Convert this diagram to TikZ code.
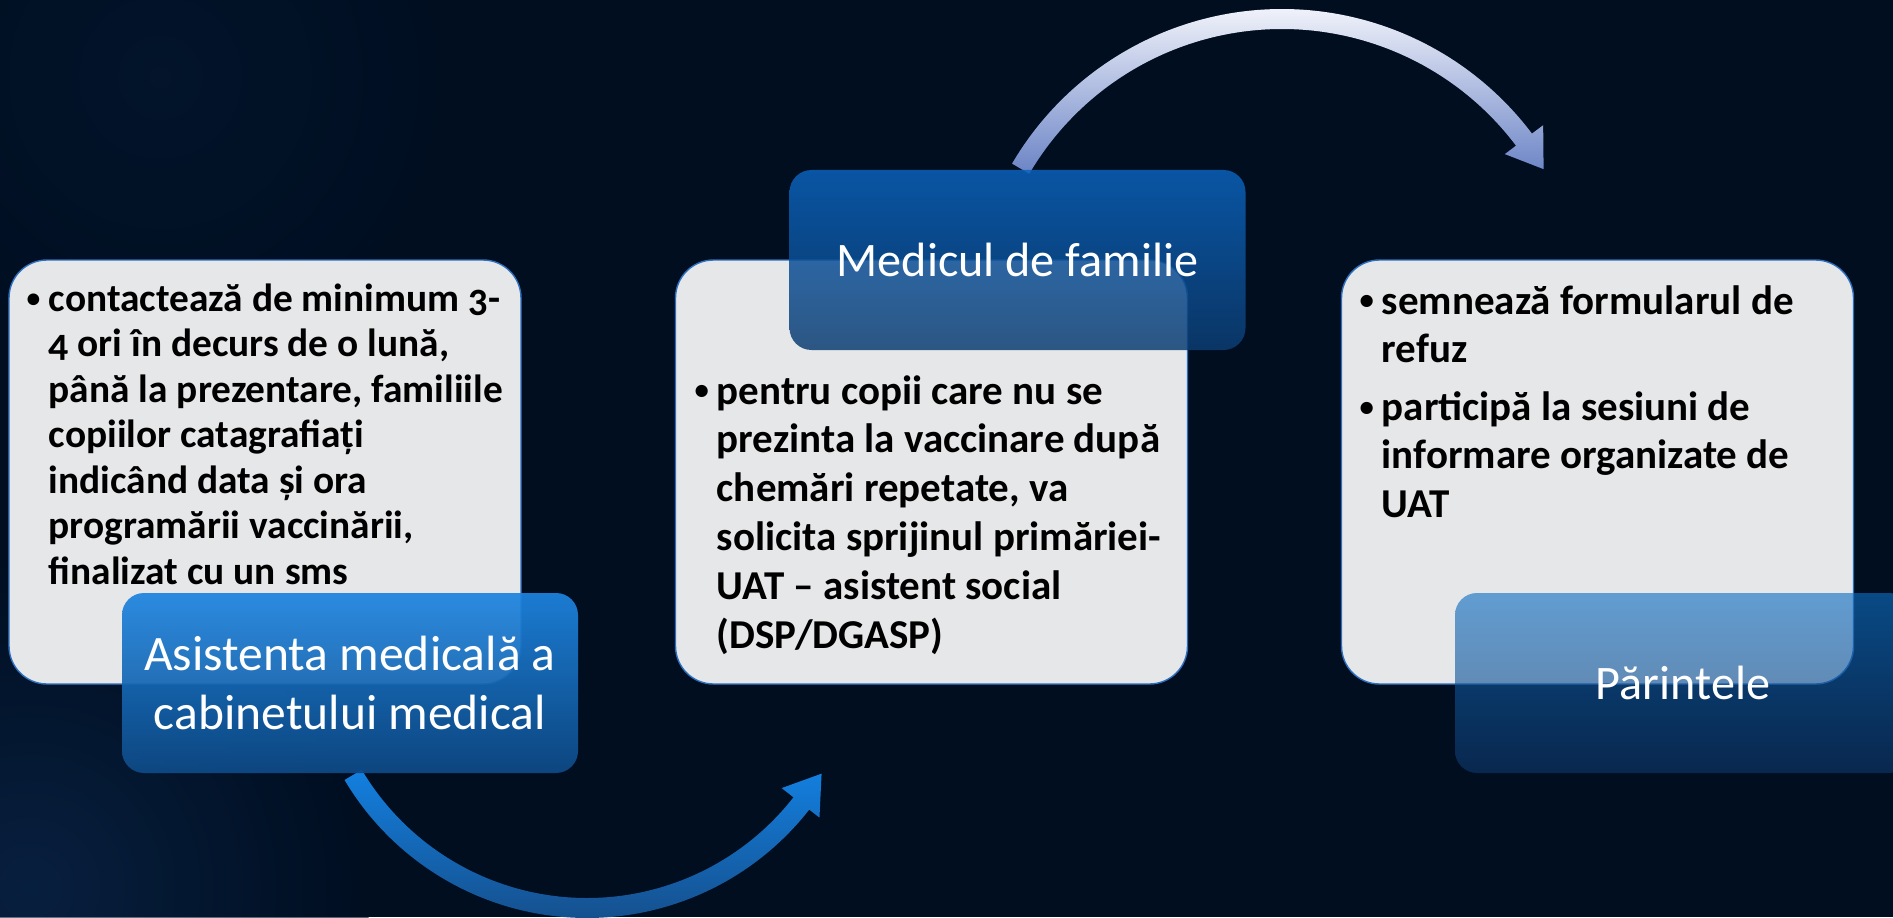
\documentclass[tikz,border=0pt]{standalone}
\usepackage{fontspec}
\setmainfont{Carlito}[Numbers=OldStyle]
\usetikzlibrary{positioning}
\definecolor{bgnavy}{HTML}{000E20}
\definecolor{bgglow}{HTML}{0C2950}
\definecolor{cardgray}{HTML}{E6E7E9}
\definecolor{cardedge}{HTML}{2D6FC0}
\definecolor{nursetop}{HTML}{1D84E0}
\definecolor{nursemid}{HTML}{1A6BBC}
\definecolor{nursebot}{HTML}{0E4A86}
\definecolor{doctop}{HTML}{0B62BB}
\definecolor{docmid}{HTML}{0E5396}
\definecolor{docbot}{HTML}{0C3D72}
\definecolor{partop}{HTML}{106FC3}
\definecolor{parmid}{HTML}{10478B}
\definecolor{parbot}{HTML}{10386C}
\definecolor{lowtop}{HTML}{1380E0}
\definecolor{lowbot}{HTML}{15508E}
\definecolor{hightop}{HTML}{F0F2FA}
\definecolor{highbot}{HTML}{6B84C6}
\newcommand{\cardbullet}{\makebox[6.3pt][l]{\raisebox{0.1em}{\scalebox{0.7}{\textbullet}}}}

\begin{document}
\begin{tikzpicture}[line cap=round,line join=round,x=1cm,y=1cm,
    card/.style={draw=cardedge,line width=0.4pt,fill=cardgray,rounded corners=0.38cm,
      minimum width=5.12cm,minimum height=4.24cm},
    role/.style={rounded corners=0.22cm,minimum width=4.56cm,minimum height=1.80cm,
      text=white,text opacity=1,align=center,font=\fontsize{13.7}{17}\selectfont},
    cardtext/.style={anchor=base west,inner sep=0pt,text=black},
    lowarrow/.style={top color=lowtop,bottom color=lowbot},
    higharrow/.style={top color=hightop,bottom color=highbot}]
  \clip (0,0) rectangle (18.93,9.17);
  \fill[bgnavy] (0,0) rectangle (18.93,9.17);
  \shade[inner color=bgglow,outer color=bgnavy,opacity=0.65] (0.3,0.3) circle (3.4);
  \shade[inner color=bgglow!40!bgnavy,outer color=bgnavy,opacity=0.6] (1.6,8.4) circle (3.0);

  \node[card] (card1) at (2.65,4.45) {};
  \node[card] (card2) at (9.315,4.45) {};
  \node[card] (card3) at (15.975,4.45) {};

  \coordinate (lowpivot) at (5.87,2.81);
  \coordinate (highpivot) at (12.82,5.95);
  \shade[lowarrow,shift={(lowpivot)}] (210.7:2.82) arc[start angle=210.7,end angle=322,radius=2.82]
    -- (322:2.95) -- (329.6:2.72) -- (322:2.47) -- (322:2.62)
    arc[start angle=322,end angle=210.7,radius=2.62] -- cycle;
  \shade[higharrow,shift={(highpivot)}] (149.6:3.13) arc[start angle=149.6,end angle=37,radius=3.13]
    -- (37:3.27) -- (30.3:3.03) -- (37:2.79) -- (37:2.93)
    arc[start angle=37,end angle=149.6,radius=2.93] -- cycle;

  \node[role,top color=nursetop,middle color=nursemid,bottom color=nursebot,fill opacity=0.93,
    font=\fontsize{14.1}{17}\selectfont]
    (nurse) at (3.50,2.34) {Asistenta medicală a\\cabinetului medical};
  \node[role,top color=doctop,middle color=docmid,bottom color=docbot,fill opacity=0.85]
    (doctor) at (10.175,6.57) {Medicul de familie};
  \node[role,top color=partop,middle color=parmid,bottom color=parbot,fill opacity=0.62]
    (parent) at (16.83,2.34) {Părintele};

  \node[cardtext,font=\fontsize{11.2}{12.97}\selectfont\bfseries] (nursetext) at (0.26,6.06)
    {\begin{tabular}[t]{@{}l@{}l@{}}
      \cardbullet & contactează de minimum 3-\\
      & 4 ori în decurs de o lună,\\
      & până la prezentare, familiile\\
      & copiilor catagrafiați\\
      & indicând data și ora\\
      & programării vaccinării,\\
      & finalizat cu un sms
    \end{tabular}};
  \node[cardtext,font=\fontsize{11.67}{13.9}\selectfont\bfseries] (doctortext) at (6.94,5.13)
    {\begin{tabular}[t]{@{}l@{}l@{}}
      \cardbullet & pentru copii care nu se\\
      & prezinta la vaccinare după\\
      & chemări repetate, va\\
      & solicita sprijinul primăriei-\\
      & UAT – asistent social\\
      & (DSP/DGASP)
    \end{tabular}};
  \node[cardtext,font=\fontsize{11.67}{13.8}\selectfont\bfseries] (parenttext) at (13.59,6.03)
    {\begin{tabular}[t]{@{}l@{}l@{}}
      \cardbullet & semnează formularul de\\
      & refuz\\[2.7pt]
      \cardbullet & participă la sesiuni de\\
      & informare organizate de\\
      & UAT
    \end{tabular}};
\end{tikzpicture}
\end{document}
